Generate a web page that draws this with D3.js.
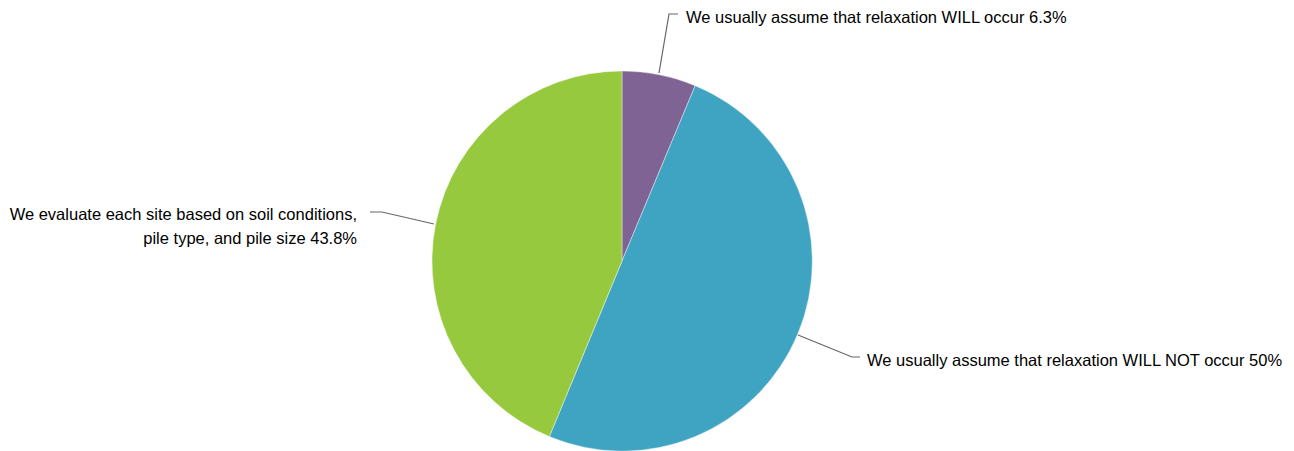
<!DOCTYPE html>
<html><head><meta charset="utf-8">
<script src="https://cdn.jsdelivr.net/npm/d3@7"></script>
<style>body{margin:0;background:#fff}svg{display:block}</style>
</head><body>
<script>
const categories = [
  "We usually assume that relaxation WILL occur",
  "We usually assume that relaxation WILL NOT occur",
  "We evaluate each site based on soil conditions, pile type, and pile size"
];
const values = [6.3, 50, 43.8];
const valueLabels = ["6.3%", "50%", "43.8%"];
const colors = ["#7f6395", "#3fa3c2", "#96c93d"];

const W = 1294, H = 451;
const cx = 622, cy = 261, R = 190;
const svg = d3.select("body").append("svg").attr("width", W).attr("height", H);
const g = svg.append("g").attr("transform", `translate(${cx},${cy})`);

const pie = d3.pie().sort(null).value(d => d)(values);
const arc = d3.arc().innerRadius(0).outerRadius(R);
g.selectAll("path").data(pie).enter().append("path")
  .attr("d", arc).attr("fill", (d, i) => colors[i])
  .attr("stroke", "#ffffff").attr("stroke-width", 0.4);

const font = "Liberation Sans, Arial, sans-serif";
const leaders = [
  {pts: [[659,73],[669,14],[678,14]], tx: 686, ty: 23, anchor: "start", lines: [categories[0] + " " + valueLabels[0]]},
  {pts: [[798,335],[852,357],[860,357]], tx: 867, ty: 366, anchor: "start", lines: [categories[1] + " " + valueLabels[1]]},
  {pts: [[434,224],[382,212],[370,212]], tx: 357, ty: 220, anchor: "end", lines: ["We evaluate each site based on soil conditions,", "pile type, and pile size " + valueLabels[2]]}
];
leaders.forEach(l => {
  svg.append("polyline").attr("points", l.pts.map(p => p.join(",")).join(" "))
    .attr("fill", "none").attr("stroke", "#666").attr("stroke-width", 1.2);
  const t = svg.append("text").attr("x", l.tx).attr("y", l.ty)
    .attr("text-anchor", l.anchor).attr("font-family", font).attr("font-size", 16.5).attr("fill", "#000");
  l.lines.forEach((s, i) => t.append("tspan").attr("x", l.tx).attr("dy", i ? 23.5 : 0).text(s));
});
</script>
</body></html>
